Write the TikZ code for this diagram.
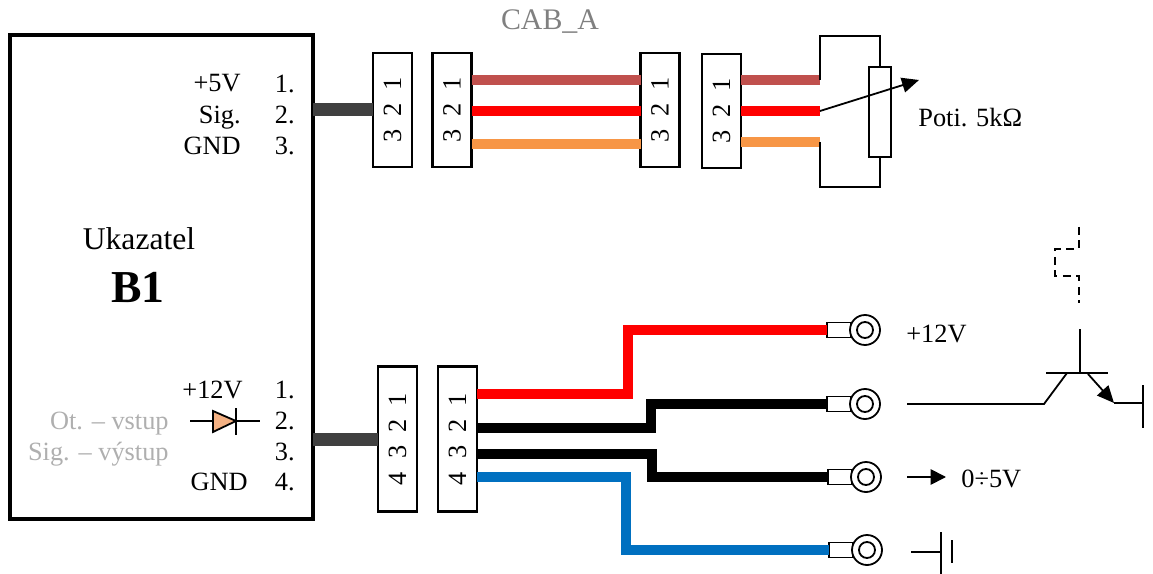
\documentclass[tikz,border=0pt]{standalone}
\usepackage{fontspec}
\setmainfont{Liberation Serif}
\usetikzlibrary{arrows.meta}
\definecolor{stubgray}{RGB}{64, 64, 64}
\definecolor{wirebrown}{RGB}{192, 80, 77}
\definecolor{wirered}{RGB}{255, 0, 0}
\definecolor{wireorange}{RGB}{247, 150, 70}
\definecolor{wireblue}{RGB}{0, 112, 192}
\definecolor{diodefill}{RGB}{244, 177, 131}
\definecolor{textgray}{RGB}{128, 128, 128}
\definecolor{textlight}{RGB}{175, 175, 175}
\tikzset{
    lab/.style={anchor=base east, inner sep=0pt, font=\fontsize{15}{18}\selectfont},
    free/.style={anchor=base west, inner sep=0pt, font=\fontsize{15}{18}\selectfont},
    plug/.style={draw, line width=0.05cm, fill=white, minimum width=0.78cm, inner sep=0pt, outer sep=0pt,
        font=\fontsize{15}{18}\selectfont},
    plugthree/.style={plug, minimum height=2.28cm},
    plugfour/.style={plug, minimum height=2.9cm},
    stub/.style={line width=0.26cm, stubgray},
    wire/.style={line width=0.19cm, miter limit=10},
    line/.style={line width=0.036cm},
    tab/.style={draw, line width=0.036cm, fill=white, anchor=east, minimum width=0.48cm, minimum height=0.3cm, inner sep=0pt, outer sep=0pt},
    lug/.style={draw, circle, line width=0.036cm, fill=white, minimum size=0.6cm, inner sep=0pt, outer sep=0pt},
    hole/.style={draw, circle, line width=0.036cm, minimum size=0.32cm, inner sep=0pt}
}

\begin{document}
\begin{tikzpicture}[x=0.02cm, y=-0.02cm]
    \useasboundingbox (0,0) rectangle (1153,574);

    % main box
    \node[draw, line width=0.08cm, minimum width=6.06cm, minimum height=9.68cm, outer sep=0pt] (B1) at (161.5,277) {};
    \node[inner sep=0pt, font=\fontsize{18}{22}\selectfont] (Name) at (139,239) {Ukazatel};
    \node[inner sep=0pt, font=\fontsize{26}{30}\selectfont\bfseries] (Ref) at (138,287) {B1};
    \foreach \n/\txt/\x/\y in {1/+5V/241/92, 2/Sig./241/124, 3/GND/241/155, 4/1./295/93, 5/2./295/124, 6/3./295/155,
        7/+12V/243/398, 8/GND/248/490, 9/1./295/398, 10/2./295/429, 11/3./295/460, 12/4./295/490}
        \node[lab] (L\n) at (\x,\y) {\txt};
    \node[lab, textlight] (Ot) at (169,429) {Ot. -- vstup};
    \node[lab, textlight] (Sig) at (169,460) {Sig. -- výstup};

    % diode
    \coordinate (Da) at (190,421);
    \coordinate (Db) at (260,421);
    \draw[line] (Da) -- (Db);
    \draw[line, fill=diodefill] (213,411) -- (236,421) -- (213,432) -- cycle;
    \draw[line] (236,408) -- (236,435);

    % connectors
    \node[plugthree] (A) at (392.5,110) {\rotatebox{90}{3\ \ 2\ \ 1}};
    \node[plugthree] (B) at (452,110) {\rotatebox{90}{3\ \ 2\ \ 1}};
    \node[plugthree] (C) at (660,110) {\rotatebox{90}{3\ \ 2\ \ 1}};
    \node[plugthree] (D) at (721.5,111) {\rotatebox{90}{3\ \ 2\ \ 1}};
    \node[plugfour] (E) at (397.5,439) {\rotatebox{90}{4\ \ 3\ \ 2\ \ 1}};
    \node[plugfour] (F) at (457.5,439) {\rotatebox{90}{4\ \ 3\ \ 2\ \ 1}};
    \draw[stub] (B1.east |- A.west) -- (A.west);
    \draw[stub] (B1.east |- E.west) -- (E.west);
    \node[inner sep=0pt, textgray, font=\fontsize{17}{20}\selectfont] (Cab) at (550,22) {CAB\_A};

    \foreach \col/\y in {wirebrown/80, wirered/111, wireorange/144}
        \draw[wire, \col] (B.east |- 0,\y) -- (C.west |- 0,\y);

    % potentiometer
    \coordinate (Pa) at (820,80);
    \coordinate (Pb) at (820,111);
    \coordinate (Pc) at (820,142);
    \coordinate (Tip) at (919,80);
    \draw[wire, wirebrown] (D.east |- Pa) -- (Pa);
    \draw[wire, wirered] (D.east |- Pb) -- (Pb);
    \draw[wire, wireorange] (D.east |- Pc) -- (Pc);
    \node[draw, line width=0.036cm, minimum width=0.44cm, minimum height=1.8cm, inner sep=0pt, outer sep=0pt] (R) at (880,112) {};
    \draw[line] (Pa) -- (820,36) -| (R.north);
    \draw[line] (Pc) -- (820,187) -| (R.south);
    \draw[line, -{Triangle[length=0.34cm, width=0.3cm]}] (Pb) -- (Tip);
    \node[free] (Poti) at (918,127) {Poti. 5kΩ};

    % ring terminals
    \foreach \n/\xt/\xl/\y in {1/851/865/330, 2/851/865/404, 3/852/866/477, 4/853/867/550} {
        \node[tab] (T\n) at (\xt,\y) {};
        \node[lug] (G\n) at (\xl,\y) {};
        \node[hole] (H\n) at (\xl,\y) {};
    }
    \draw[wire, wirered] (F.east |- 0,394) -- (628,394) |- (T1.west);
    \draw[wire] (F.east |- 0,428) -- (651,428) |- (T2.west);
    \draw[wire] (F.east |- 0,454) -- (652,454) |- (T3.west);
    \draw[wire, wireblue] (F.east |- 0,477) -- (626,477) |- (T4.west);

    % labels at terminals
    \node[free] (Plus) at (906,342) {+12V};
    \coordinate (Oa) at (907,477);
    \coordinate (Ob) at (946,477);
    \draw[line, -{Triangle[length=0.31cm, width=0.31cm]}] (Oa) -- (Ob);
    \node[free] (Out) at (961,487) {0÷5V};
    \coordinate (Ga) at (911,552);
    \coordinate (Gb) at (941,552);
    \draw[line] (Ga) -- (Gb);
    \draw[line] (941,532) -- (941,574);
    \draw[line] (952,540) -- (952,563);

    % transistor
    \coordinate (Qb) at (907,404);
    \coordinate (Qc) at (1044,404);
    \draw[line] (Qb) -- (Qc) -- (1067,373);
    \draw[line] (1046,373) -- (1108,373);
    \draw[line] (1080,329) -- (1080,373);
    \draw[line, -{Triangle[length=0.34cm, width=0.3cm]}] (1088,374) -- (1114,403);
    \draw[line] (1114,403) -- (1143,403);
    \draw[line] (1143,385) -- (1143,428);
    \draw[line, dash pattern=on 0.16cm off 0.11cm] (1079,227) -- (1079,249) -- (1055,249) -- (1055,276) -- (1079,276) -- (1079,303);
\end{tikzpicture}
\end{document}
